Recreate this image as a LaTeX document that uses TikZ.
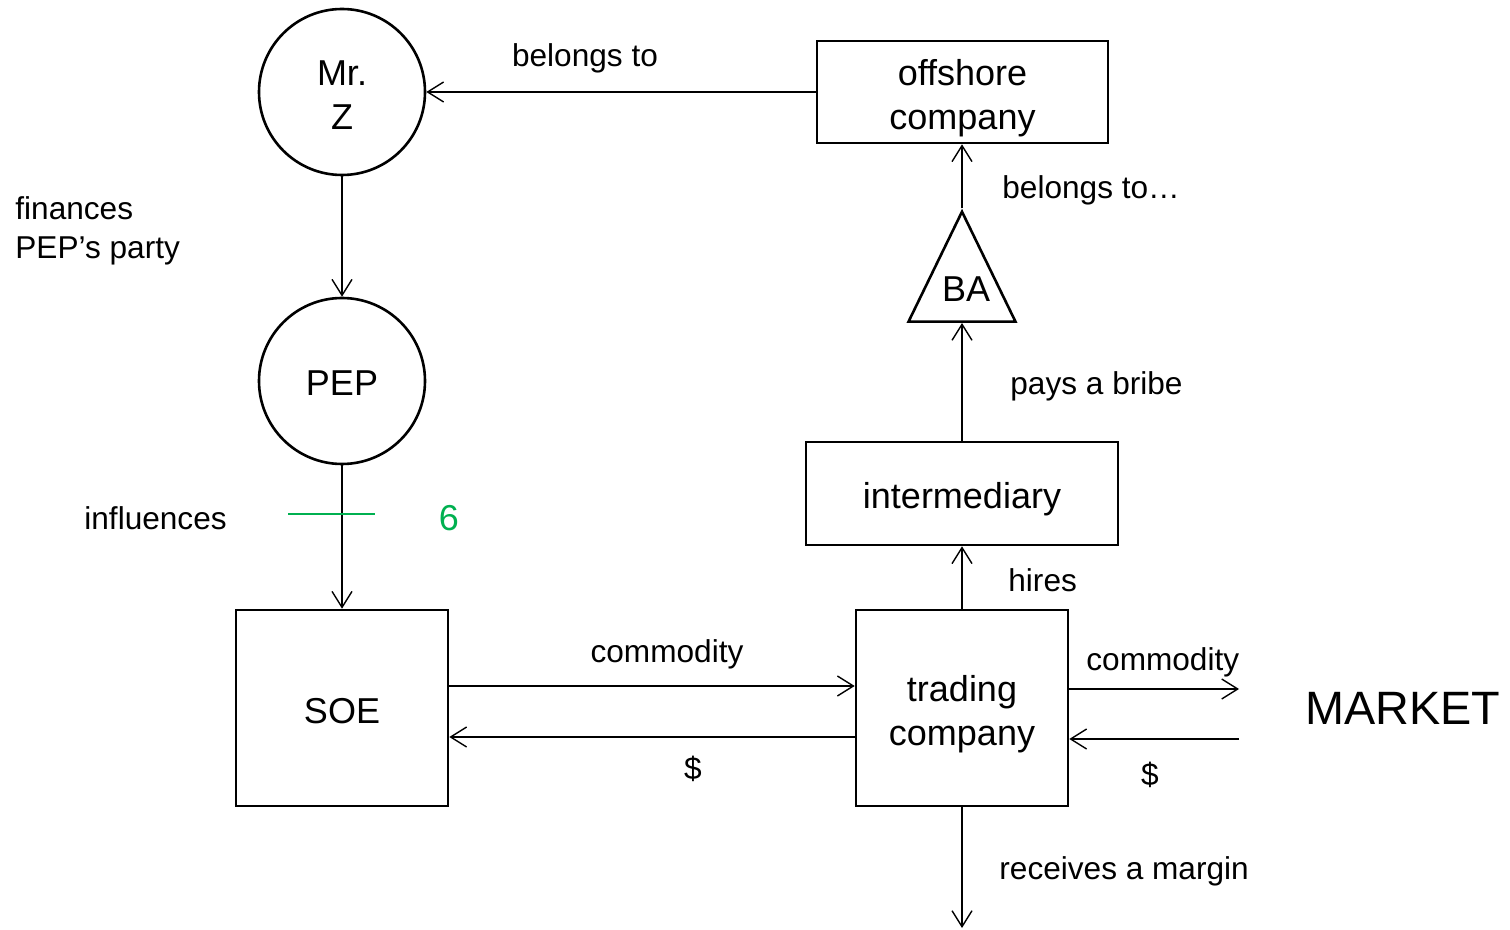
\documentclass[tikz,border=0pt]{standalone}
\usepackage{fontspec}
\setmainfont{Liberation Sans}
\usetikzlibrary{arrows.meta,shapes.geometric}
\definecolor{markgreen}{HTML}{00B050}
\begin{document}
\begin{tikzpicture}[x=0.5pt,y=-0.5pt,
  entity/.style={draw,line width=1.3pt,inner sep=0pt,align=center,
    font=\fontsize{18}{22}\selectfont,text height=17pt,text depth=2pt},
  twolines/.style={text height=38pt,text depth=0.7pt},
  person/.style={entity,circle,minimum size=83pt},
  firm/.style={entity,rectangle},
  flow/.style={line width=0.7pt,-{Straight Barb[length=8pt,width=10pt,line width=0.7pt]}},
  lbl/.style={inner sep=0pt,font=\fontsize{15.8}{19.5}\selectfont,align=left}]
\useasboundingbox (0,0) rectangle (1510,930);

% actors
\node[person,twolines] (mrz) at (342,92) {Mr.\\Z};
\node[person] (pep) at (342,381) {PEP};
\node[firm,minimum width=106pt,minimum height=98pt] (soe) at (342,708) {SOE};
\node[firm,twolines,minimum width=106pt,minimum height=98pt] (trade) at (962,708) {trading\\company};
\node[firm,minimum width=156pt,minimum height=51.5pt] (inter) at (962,493.5) {intermediary};
\node[firm,twolines,minimum width=145.5pt,minimum height=51pt] (offshore) at (962.5,92) {offshore\\company};
\node[draw,line width=1.3pt,inner sep=0pt,isosceles triangle,shape border rotate=90,
  isosceles triangle stretches,minimum width=53.5pt,minimum height=55pt,
  anchor=lower side] (ba) at (962,323) {};
\node[inner sep=0pt,font=\fontsize{18}{22}\selectfont] (batext) at (966,289) {BA};

% free ends towards the market and the margin
\coordinate (mktout) at (1239,689);
\coordinate (mktin) at (1239,739);
\coordinate (margin) at (962,928);

% flows
\draw[flow] (offshore.west) -- (mrz.east);
\draw[flow] (mrz.south) -- (pep.north);
\draw[flow] (pep.south) -- (soe.north);
\draw[flow] ([yshift=11pt]soe.east) -- ([yshift=11pt]trade.west);
\draw[flow] ([yshift=-14.5pt]trade.west) -- ([yshift=-14.5pt]soe.east);
\draw[flow] (trade.east |- mktout) -- (mktout);
\draw[flow] (mktin) -- (trade.east |- mktin);
\draw[flow] (trade.south) -- (margin);
\draw[flow] (trade.north) -- (inter.south);
\draw[flow] (inter.north) -- (inter.north |- ba.lower side);
\draw[flow] (inter.north |- ba.apex) -- (inter.north |- offshore.south);

% green tick across the influence line
\draw[markgreen,line width=1.3pt] (288,514) coordinate (tickl) -- (375,514) coordinate (tickr);
\node[inner sep=0pt,text=markgreen,font=\fontsize{18}{22}\selectfont] (six) at (449,518) {6};

% labels
\node[lbl] (lbelongs) at (585,58) {belongs to};
\node[lbl,anchor=west] (lbelongs2) at (1002,190) {belongs to…};
\node[lbl,anchor=west] (lbribe) at (1010,386) {pays a bribe};
\node[lbl,anchor=west] (lhires) at (1008,580) {hires};
\node[lbl] (lcomm1) at (667,654) {commodity};
\node[lbl] (ldollar1) at (693,769) {\$};
\node[lbl,anchor=west] (lcomm2) at (1086,662) {commodity};
\node[lbl] (ldollar2) at (1150,775) {\$};
\node[lbl,anchor=west] (lmargin) at (999,871) {receives a margin};
\node[lbl,anchor=west] (linfl) at (84,518) {influences};
\node[lbl,anchor=west] (lfin) at (15,230.5) {finances\\PEP’s party};
\node[inner sep=0pt,anchor=west,font=\fontsize{23.4}{28}\selectfont] (market) at (1305,708) {MARKET};
\end{tikzpicture}
\end{document}
